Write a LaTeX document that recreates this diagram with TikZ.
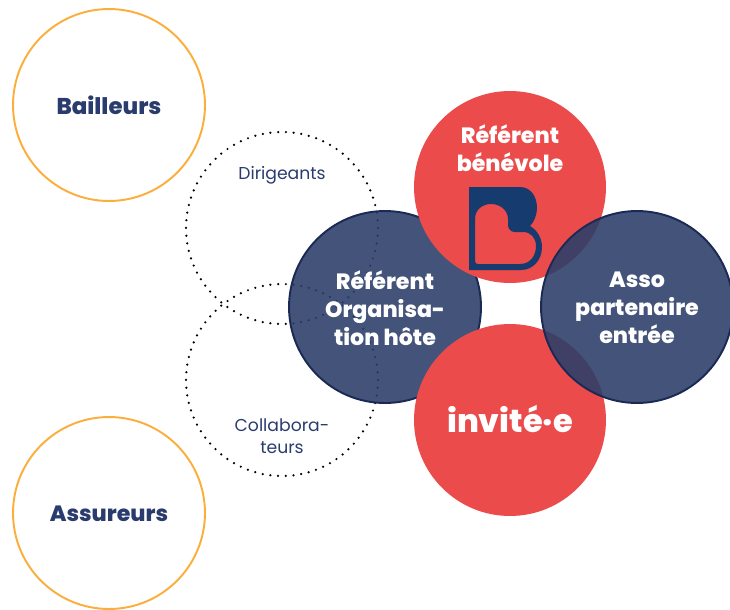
\documentclass[tikz,border=0pt]{standalone}
\usepackage{fontspec}
\setmainfont{Poppins}
\newfontfamily\heavyfont{Poppins ExtraBold}
\definecolor{navytext}{HTML}{2A3B6D}
\definecolor{navyline}{HTML}{1B2A55}
\definecolor{navyfill}{HTML}{2C3E69}
\definecolor{redfill}{HTML}{EB4B4A}
\definecolor{orangeline}{HTML}{FBAE3C}
\definecolor{logoblue}{HTML}{163B6E}
\tikzset{
    bigcircle/.style={circle,minimum size=3.84cm,inner sep=0pt,align=center},
    outercircle/.style={bigcircle,draw=orangeline,line width=1.1pt},
    outerlabel/.style={text=navytext,font=\fontsize{13}{16}\heavyfont},
    dotcircle/.style={bigcircle,draw=black,line width=1.4pt,line cap=round,dash pattern=on 0pt off 4.4pt},
    dotlabel/.style={text=navytext,align=center,font=\fontsize{9.8}{12.5}\selectfont},
    bluecircle/.style={bigcircle,draw=navyline,line width=1.1pt,fill=navyfill,fill opacity=0.89},
    bluelabel/.style={text=white,align=center,font=\fontsize{12.6}{16}\heavyfont},
    redcircle/.style={bigcircle,fill=redfill},
}
\begin{document}
\begin{tikzpicture}[x=0.02cm,y=-0.02cm]
    \useasboundingbox (0,0) rectangle (730,609);

    % Draw the outer circles
    \node[outercircle] (bailleurs) at (109,105) {};
    \node[outercircle] (assureurs) at (109,513) {};
    \node[outerlabel] (bailleurslabel) at (109,105) {Bailleurs};
    \node[outerlabel,font=\fontsize{12.6}{16}\heavyfont] (assureurslabel) at (109,514) {Assureurs};

    % Draw the dotted circles
    \node[dotcircle] (dirigeants) at (282,228) {};
    \node[dotcircle] (collaborateurs) at (282,380) {};
    \node[dotlabel] (dirigeantslabel) at (282,175) {Dirigeants};
    \node[dotlabel] (collablabel) at (282,436) {Collabora-\\teurs};

    % Draw the host organisation circle
    \node[bluecircle] (organisation) at (385,307) {};
    \node[bluelabel] (organisationlabel) at (385,308) {Référent\\Organisa-\\tion hôte};

    % Draw the red circles
    \node[redcircle] (benevole) at (510,187) {};
    \node[redcircle] (invite) at (510,420) {};
    \node[bluelabel] (benevolelabel) at (510,148) {Référent\\bénévole};
    \node[bluelabel,font=\fontsize{18.2}{20}\heavyfont] (invitelabel) at (510,419) {invité·e};

    % Draw the logo
    \fill[logoblue,even odd rule] (469,187) -- (520,187)
        .. controls (531,187) and (537,197) .. (537,208)
        .. controls (537,215) and (534,222) .. (530,226)
        .. controls (537,230) and (542,238) .. (542,247)
        .. controls (542,260) and (533,270) .. (521,270)
        -- (469,270) -- cycle
        (475,261) -- (475,219)
        .. controls (475,210) and (482,204) .. (491,204)
        .. controls (501,204) and (508,211) .. (508,219)
        -- (508,225)
        .. controls (508,229) and (511,232) .. (515,232)
        -- (523,232)
        .. controls (531,232) and (536,238) .. (536,246)
        .. controls (536,256) and (530,264) .. (520,264)
        -- (478,264) .. controls (476,264) and (475,263) .. (475,261) -- cycle;

    % Draw the partner circle
    \node[bluecircle] (partenaire) at (637,307) {};
    \node[bluelabel] (partenairelabel) at (637,308) {Asso\\partenaire\\entrée};
\end{tikzpicture}
\end{document}
